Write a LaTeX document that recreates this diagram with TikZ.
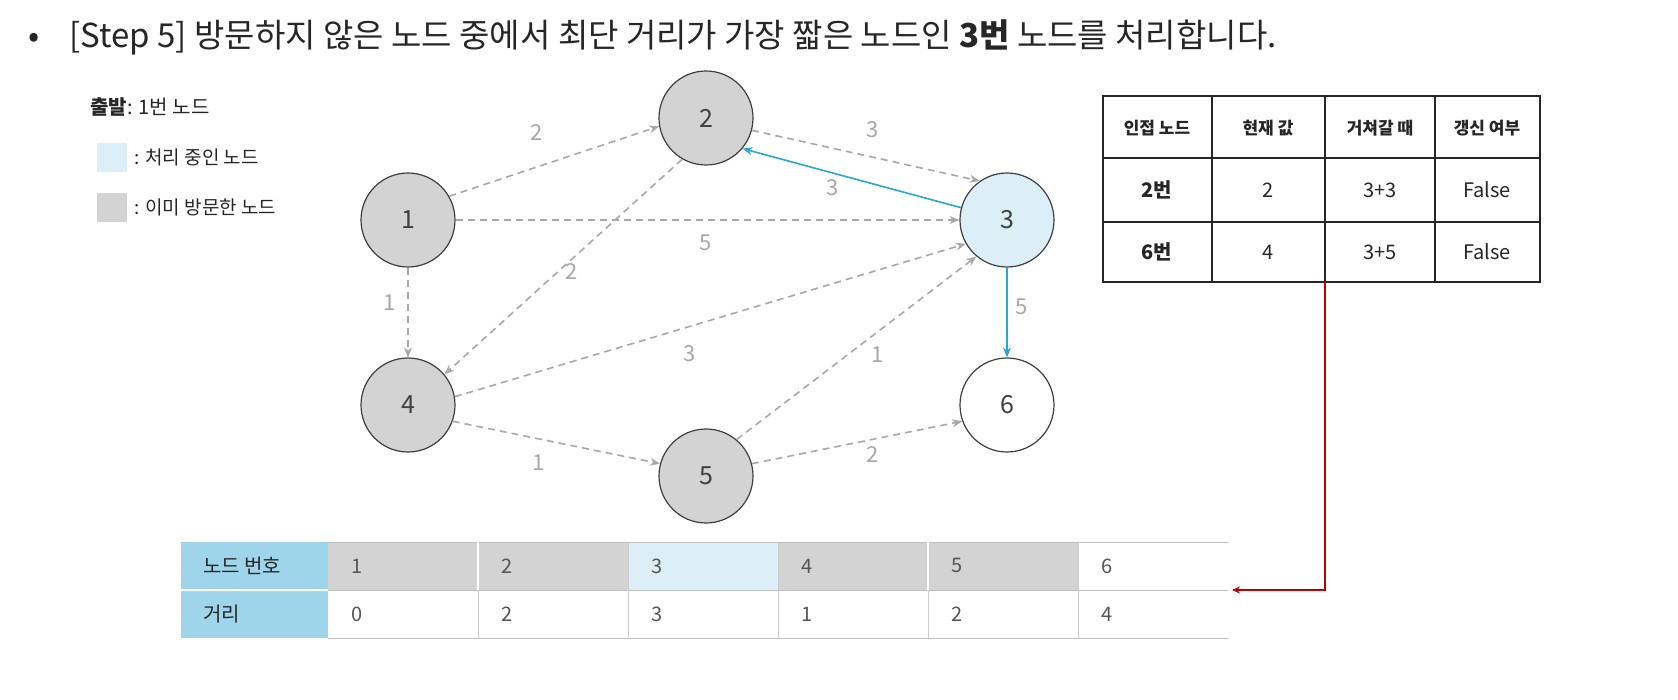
\documentclass[tikz,border=0pt]{standalone}
\usepackage{fontspec}
\setmainfont{Noto Sans CJK KR}
\usetikzlibrary{arrows.meta}
\definecolor{gn}{HTML}{D3D3D3}
\definecolor{bn}{HTML}{DCEFF8}
\definecolor{hd}{HTML}{9ED5EA}
\definecolor{bl}{HTML}{2AA6CF}
\definecolor{tx}{HTML}{555555}
\definecolor{ed}{HTML}{A8A8A8}
\begin{document}
\begin{tikzpicture}[x=0.5pt,y=-0.5pt,
  vert/.style={circle,draw=black!75,line width=0.6pt,minimum size=47pt,inner sep=0pt,font=\fontsize{12.5}{12.5}\selectfont,text=black!75},
  ge/.style={-{Stealth[length=5pt,width=4pt]},dashed,dash pattern=on 3.5pt off 2.5pt,line width=0.8pt,draw=ed},
  be/.style={-{Stealth[length=5pt,width=4pt]},line width=0.8pt,draw=bl},
  el/.style={font=\fontsize{11}{11}\selectfont,text=ed},
  th/.style={font=\fontsize{8.5}{8.5}\selectfont\bfseries,text=black!85},
  tc/.style={font=\fontsize{10}{10}\selectfont,text=black!85},
  bc/.style={font=\fontsize{10}{10}\selectfont,text=tx,anchor=west}]
\useasboundingbox (0,0) rectangle (1678,700);
\fill[white] (0,0) rectangle (1678,700);
\node[anchor=west,font=\fontsize{16.5}{16.5}\selectfont,text=black!85,inner sep=0pt] (title) at (28,37) {•\hspace{15pt}[Step 5] 방문하지 않은 노드 중에서 최단 거리가 가장 짧은 노드인 \textbf{3번} 노드를 처리합니다.};
% legend
\node[anchor=west,font=\fontsize{10}{10}\selectfont,text=black!85,inner sep=0pt] (lg1) at (90,107) {\textbf{출발}: 1번 노드};
\fill[bn] (97,143) rectangle (127,172);
\node[anchor=west,font=\fontsize{9.5}{9.5}\selectfont,text=black!85,inner sep=0pt] (lg2) at (134,157) {: 처리 중인 노드};
\fill[gn] (97,193) rectangle (127,222);
\node[anchor=west,font=\fontsize{9.5}{9.5}\selectfont,text=black!85,inner sep=0pt] (lg3) at (134,207) {: 이미 방문한 노드};
% nodes
\node[vert,fill=gn] (n1) at (408,220) {1};
\node[vert,fill=gn] (n2) at (706,118) {2};
\node[vert,fill=bn] (n3) at (1007,220) {3};
\node[vert,fill=gn] (n4) at (408,405) {4};
\node[vert,fill=gn] (n5) at (706,476) {5};
\node[vert,fill=white] (n6) at (1007,405) {6};
% edges
\draw[ge] (n1.30) -- (n2.190); \node[el] at (537,133) {2};
\draw[ge] (n2.-15) -- (n3.125); \node[el] at (873,130) {3};
\draw[be] (n3.165) -- (n2.-40); \node[el] at (833,188) {3};
\draw[ge] (n1) -- (n3); \node[el] at (706,243) {5};
\draw[ge] (n1) -- (n4); \node[el] at (390,303) {1};
\draw[ge] (n2.240) -- (n4.40); \node[el] at (572,272) {2};
\draw[ge] (n4.10) -- (n3.210); \node[el] at (690,354) {3};
\draw[ge] (n5.50) -- (n3.230); \node[el] at (878,355) {1};
\draw[be] (n3) -- (n6); \node[el] at (1022,307) {5};
\draw[ge] (n4.-20) -- (n5.165); \node[el] at (539,463) {1};
\draw[ge] (n5.15) -- (n6.200); \node[el] at (873,455) {2};
% right table
\draw[line width=0.65pt,black!85] (1103,96) rectangle (1540,282);
\foreach \y in {158,222} \draw[line width=0.55pt,black!85] (1103,\y) -- (1540,\y);
\foreach \x in {1212,1325,1435} \draw[line width=0.55pt,black!85] (\x,96) -- (\x,282);
\node[th] at (1157,128) {인접 노드};
\node[th] at (1268,128) {현재 값};
\node[th] at (1380,128) {거쳐갈 때};
\node[th] at (1487,128) {갱신 여부};
\node[tc] at (1157,190) {\textbf{2번}}; \node[tc] at (1268,190) {2}; \node[tc] at (1380,190) {3+3}; \node[tc] at (1487,190) {False};
\node[tc] at (1157,252) {\textbf{6번}}; \node[tc] at (1268,252) {4}; \node[tc] at (1380,252) {3+5}; \node[tc] at (1487,252) {False};
\coordinate (rt) at (1325,282);
% bottom table
\fill[hd] (181,542) rectangle (328,638);
\fill[gn] (328,542) rectangle (628,590);
\fill[bn] (628,542) rectangle (778,590);
\fill[gn] (778,542) rectangle (1078,590);
\draw[white,line width=0.75pt] (181,590) -- (328,590);
\draw[black!25,line width=0.5pt] (328,542) -- (1228,542) (328,590) -- (1228,590) (328,638) -- (1228,638);
\foreach \x in {478,628,778,928,1078} \draw[black!20,line width=0.5pt] (\x,542) -- (\x,638);
\draw[white,line width=0.75pt] (478,542)--(478,590) (928,542)--(928,590);
\node[bc,text=black!85] at (196,566) {노드 번호};
\node[bc,text=black!85] at (196,614) {거리};
\foreach \x/\a/\b in {328/1/0,478/2/2,628/3/3,778/4/1,928/5/2,1078/6/4}{
  \node[bc] at (\x+16,566) {\a};
  \node[bc] at (\x+16,614) {\b};}
\coordinate (bt) at (1232,590);
\draw[-{Stealth[length=4pt,width=3.5pt]},line width=0.9pt,draw=red!75!black] (rt) |- (bt);
\end{tikzpicture}
\end{document}
